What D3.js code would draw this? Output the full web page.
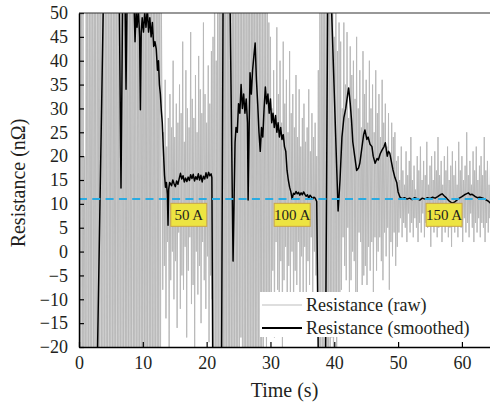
<!DOCTYPE html>
<html><head><meta charset="utf-8">
<script src="https://cdn.jsdelivr.net/npm/d3@7"></script>
<style>
body{margin:0;background:#fff}
svg{display:block}
text{font-family:"Liberation Serif","Times New Roman",serif;fill:#231f20}
</style>
</head><body><svg id="c" width="490" height="402"></svg>
<script>
// ---- data ----
const rawStep = 0.125; // seconds between raw samples, starting at t = 0
const rawValues = [
  // 0 - 12.875 s
  -45,70,-30,85,-50,62,-25,20,-60,75,
  -35,90,-40,66,-55,80,-28,72,-48,95,
  -33,68,-62,77,-38,84,-26,71,-52,88,
  -30,64,-45,92,-36,70,-58,83,-29,76,
  -47,89,-34,65,-55,80,-24,73,-42,86,
  -31,60,-50,78,-27,94,-44,69,-39,81,
  -56,74,-32,87,-46,63,-23,91,-51,79,
  -37,85,-60,67,-28,90,-43,72,-35,83,
  -49,76,-30,94,-57,68,-25,80,-41,88,
  -34,71,-53,86,-29,65,-46,92,-38,77,
  -26,84,-48,62,
  // 13 - 20.875 s
  30,-8,25,-3,36,-14,22,2,28,-20,
  33,-6,26,0,40,-10,24,-2,31,-16,
  27,4,35,-12,29,-5,44,-8,23,1,
  38,-18,30,-4,26,3,46,-11,32,-7,
  28,-22,37,0,25,-9,41,-3,34,-15,
  29,2,48,-6,33,-12,27,-1,39,-19,
  31,-5,42,-10,
  // 21 - 29.875 s
  45,-35,70,-48,40,-30,82,-55,75,-40,
  90,-28,68,-50,85,-33,72,-45,93,-26,
  79,-58,66,-37,88,-42,74,-30,81,-53,
  63,-22,70,-35,58,-18,77,-44,86,-31,
  69,-52,92,-27,73,-39,84,-48,65,-34,
  89,-25,71,-56,80,-36,67,-29,76,-47,
  60,-20,55,-28,62,-15,50,-24,57,-17,
  48,-12,
  // 30 - 37.375 s
  45,-12,30,-4,38,-18,28,2,47,-8,
  33,-15,40,-2,27,-20,44,-6,31,1,
  36,-14,25,-3,42,-10,29,0,33,-16,
  26,-4,37,-7,24,2,34,-12,22,-1,
  28,-9,31,1,23,-13,26,-2,34,-7,
  21,3,29,-10,24,0,27,-5,20,-13,
  // 37.5 - 40.875 s
  38,-30,55,-45,70,-25,80,-40,62,-22,
  75,-35,85,-50,60,-28,52,-18,66,-32,
  45,-15,50,-20,42,-10,48,-12,
  // 41 - 49.875 s
  44,-8,30,3,48,-3,35,-6,46,5,
  28,-10,43,-6,37,0,40,-2,32,-9,
  45,-10,30,4,38,2,26,-7,42,-5,
  33,-3,36,-7,27,1,40,-4,30,2,
  35,-9,25,3,38,-4,29,0,33,3,
  24,-2,36,-6,27,4,31,-1,22,5,
  29,-8,20,2,27,-1,24,4,25,-3,
  19,1,
  // 50 - 64.5 s
  20,4,15,7,22,3,17,6,14,5,
  21,2,16,8,19,4,24,6,15,3,
  18,7,13,5,20,2,17,6,22,4,
  15,8,19,3,16,6,23,5,14,7,
  18,1,20,6,15,4,21,7,17,3,
  24,5,16,8,19,2,14,6,20,4,
  17,7,22,3,15,5,18,1,21,6,
  16,4,19,8,14,3,23,6,17,5,
  20,2,15,7,18,4,25,6,16,3,
  19,8,14,5,21,2,17,6,22,4,
  15,7,18,3,20,6,16,5,24,2,
  17,6,19,4,14,7,21
];
const smoothTime = [
  0,2.85,3.85,6.3,6.58,6.85,7.2,7.37,7.55,8.6,8.78,8.95,9.1,9.3,9.5,9.62,9.75,9.9,10.1,10.3,
  10.5,10.7,10.9,11.1,11.3,11.5,11.7,11.9,12.1,12.3,12.45,12.6,12.75,12.9,13.05,13.2,13.4,13.55,13.7,13.85,
  13.95,14.05,14.2,14.5,14.7,14.9,15.1,15.3,15.5,15.7,15.9,16.1,16.3,16.5,16.7,16.9,17.1,17.3,17.5,17.7,
  17.9,18.1,18.3,18.5,18.7,18.9,19.1,19.3,19.5,19.7,19.9,20.1,20.3,20.5,20.7,20.82,21.0,22.3,22.6,23.6,
  24.14,24.45,24.6,24.8,25.0,25.2,25.4,25.6,25.8,26.0,26.2,26.4,26.5,26.65,26.8,27.0,27.2,27.4,27.6,27.8,
  28.0,28.2,28.4,28.6,28.8,29.0,29.2,29.4,29.6,29.8,30.0,30.2,30.4,30.6,30.8,31.0,31.2,31.4,31.6,31.8,
  32.0,32.2,32.4,32.6,32.8,33.0,33.2,33.4,33.6,33.8,34.0,34.2,34.4,34.6,34.8,35.0,35.2,35.4,35.6,35.8,
  36.0,36.2,36.4,36.6,36.8,37.0,37.25,37.55,38.6,39.0,39.4,40.6,40.9,41.2,41.5,41.8,42.1,42.25,42.5,42.7,
  42.9,43.2,43.5,43.8,44.0,44.3,44.6,44.8,45.1,45.3,45.6,45.9,46.1,46.4,46.7,46.9,47.2,47.5,47.8,48.0,
  48.3,48.5,48.7,49.0,49.2,49.5,49.8,50.0,50.3,50.6,51.0,51.4,51.8,52.2,52.6,53.0,53.4,53.8,54.2,54.6,
  55.0,55.4,55.8,56.2,56.6,56.9,57.2,57.6,58.0,58.3,58.6,58.9,59.2,59.6,60.0,60.4,60.7,61.0,61.3,61.6,
  62.0,62.4,62.8,63.3,63.7,64.1,64.5
];
const smoothValue = [
  -40,-25,55,55,13.3,55,55,34,55,53,44,50,47,51,45,29.7,46,49,46,50,
  47,51,46,49,45,48,43,44,42.5,38,40,35,33,29.5,27,22,16,13.5,14.5,12,
  5.5,13,14.5,13.8,15.0,14.2,13.6,14.8,14.1,15.3,16.4,15.2,15.9,14.6,15.4,14.7,15.6,14.9,16.1,15.3,
  16.2,14.8,15.7,15.1,16.3,15.0,16.0,14.6,15.8,15.2,16.5,15.4,16.6,15.9,16.3,15.5,-35,-35,60,60,
  -2,22.8,26,25,31,29,35,30,33,29,32,27,10.8,25,37.5,33,38,41,43.7,36,
  31,25,21,26,24,30,34.5,31,33,29,32,27,29,26,28.5,25,27,24,26,23.5,
  24.5,22,21,17,15,13.5,12.5,11,12.2,12.0,12.6,12.1,12.4,11.8,12.3,11.9,12.5,12.0,11.6,11.9,
  11.2,11.8,11.5,11.0,11.4,11.2,10.5,-30,-30,60,58,8.5,15,24,28,30,33,34.3,31,27.6,
  23,20,17,17.5,18.5,21.5,24.5,25.5,23.5,24,22.5,22,20,18.5,19.5,19.2,20.5,21.3,22,22.8,
  20,21,20.6,18.5,17.1,15.5,14.4,12.5,11.4,11.1,11.3,11.0,11.2,10.9,11.3,11.1,10.8,11.2,11.0,11.3,
  11.1,11.4,11.2,11.5,11.9,12.1,11.7,11.2,10.6,10.3,10.2,10.4,10.8,11.2,11.5,11.9,12.1,12.3,11.9,12.0,
  11.6,11.3,11.4,11.2,10.9,10.6,10.1
];
const xTicks = [0,10,20,30,40,50,60];
const yTicks = [-20,-15,-10,-5,0,5,10,15,20,25,30,35,40,45,50];
const referenceLevel = 11;
const annotationLabels = ["50 A","100 A","150 A"];
const annotationTimes = [17.2,33.4,57.2];
const annotationLevels = [7.7,7.7,7.7];
const legendLabels = ["Resistance (raw)","Resistance (smoothed)"];
const xTitle = "Time (s)";
const yTitle = "Resistance (nΩ)";

// ---- chart ----
const svg = d3.select("#c");
const x = d3.scaleLinear().domain([0,64.4]).range([79,490]);
const y = d3.scaleLinear().domain([-20,50]).range([347,13]);

svg.append("defs").append("clipPath").attr("id","clip")
  .append("rect").attr("x",79).attr("y",13).attr("width",411).attr("height",334);

const raw = rawValues.map((v,i)=>({t:i*rawStep,v}));
const sm = smoothTime.map((t,i)=>({t,v:smoothValue[i]}));
const line = d3.line().x(d=>x(d.t)).y(d=>y(d.v));

const plot = svg.append("g").attr("clip-path","url(#clip)");
plot.append("path").datum(raw).attr("d",line)
  .attr("fill","none").attr("stroke","#b9b9b9").attr("stroke-width",1);
plot.append("path").datum(sm).attr("d",line)
  .attr("fill","none").attr("stroke","#000").attr("stroke-width",1.5)
  .attr("stroke-linejoin","round");
plot.append("line")
  .attr("x1",x(0)).attr("x2",x(64.4))
  .attr("y1",y(referenceLevel)).attr("y2",y(referenceLevel))
  .attr("stroke","#29abe2").attr("stroke-width",2).attr("stroke-dasharray","8,5.3");

// annotations
const ann = svg.append("g").selectAll("g").data(annotationLabels).join("g")
  .attr("transform",(d,i)=>`translate(${x(annotationTimes[i])},${y(annotationLevels[i])})`);
ann.append("rect").attr("x",-18).attr("y",-11.5).attr("width",36).attr("height",23)
  .attr("fill","#ede442").attr("stroke","#c9a44a").attr("stroke-width",1);
ann.append("text").attr("text-anchor","middle").attr("dy","0.35em")
  .attr("font-size",15).text(d=>d);

// legend
const lg = svg.append("g");
lg.append("rect").attr("x",260).attr("y",292).attr("width",230).attr("height",45).attr("fill","#fff");
const lgColors = ["#bebebe","#000"], lgWidths=[1.2,2];
legendLabels.forEach((t,i)=>{
  const yy = 305 + i*23;
  lg.append("line").attr("x1",262).attr("x2",302).attr("y1",yy).attr("y2",yy)
    .attr("stroke",lgColors[i]).attr("stroke-width",lgWidths[i]);
  lg.append("text").attr("x",306).attr("y",yy).attr("dy","0.35em").attr("font-size",18).text(t);
});

// axes
const ya = svg.append("g").attr("transform","translate(79,0)")
  .call(d3.axisLeft(y).tickValues(yTicks).tickSizeInner(-5).tickSizeOuter(0).tickPadding(11));
const xa = svg.append("g").attr("transform","translate(0,347)")
  .call(d3.axisBottom(x).tickValues(xTicks).tickSizeInner(-5).tickSizeOuter(0).tickPadding(9));
[ya,xa].forEach(a=>{
  a.selectAll("text").attr("font-size",18).attr("font-family","Liberation Serif").attr("fill","#231f20");
  a.select(".domain").attr("stroke","#000").attr("stroke-width",1.5);
  a.selectAll(".tick line").attr("stroke","#000").attr("stroke-width",1.2);
});
svg.append("line").attr("x1",79).attr("x2",490).attr("y1",13).attr("y2",13)
  .attr("stroke","#333").attr("stroke-width",1.2);

svg.append("text").attr("x",284.5).attr("y",397).attr("text-anchor","middle")
  .attr("font-size",20).text(xTitle);
svg.append("text").attr("transform","translate(25,183) rotate(-90)").attr("text-anchor","middle")
  .attr("font-size",20).text(yTitle);
</script>
</body></html>
